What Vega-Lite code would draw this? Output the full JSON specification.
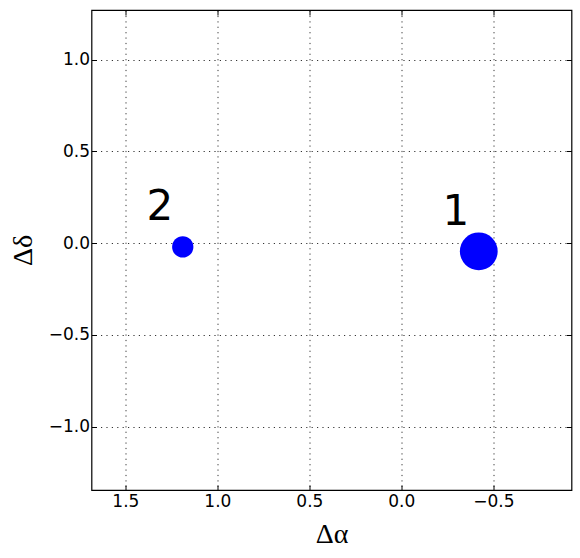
{
  "$schema": "https://vega.github.io/schema/vega-lite/v6.json",
  "autosize": "none",
  "width": 480,
  "height": 480,
  "padding": {"left": 91.5, "top": 10, "right": 8.5, "bottom": 68},
  "background": "white",
  "config": {
    "view": {"stroke": "black", "strokeWidth": 1.2},
    "axis": {
      "domain": false,
      "tickColor": "black",
      "tickSize": -5,
      "tickWidth": 1,
      "labelFont": "DejaVu Sans",
      "labelFontSize": 17,
      "labelColor": "black",
      "gridColor": "black",
      "gridDash": [1.2, 4.2],
      "gridWidth": 0.8,
      "gridOpacity": 1
    }
  },
  "data": {
    "values": [
      {"id": "1", "dalpha": -0.421, "ddelta": -0.044, "flux": 1.0},
      {"id": "2", "dalpha": 1.188, "ddelta": -0.020, "flux": 0.317}
    ]
  },
  "layer": [
    {
      "mark": {"type": "circle", "color": "blue", "opacity": 1},
      "encoding": {
        "x": {
          "field": "dalpha", "type": "quantitative",
          "scale": {"domain": [-0.925, 1.684], "reverse": true, "nice": false, "zero": false},
          "axis": {
            "orient": "bottom", "values": [-0.5, 0, 0.5, 1, 1.5], "format": ".1f",
            "grid": true, "labelPadding": 8,
            "title": "Δα", "titleFont": "Liberation Serif", "titleFontSize": 28,
            "titleFontWeight": "normal", "titleColor": "black",
            "titleBaseline": "alphabetic", "titleY": 52
          }
        },
        "y": {
          "field": "ddelta", "type": "quantitative",
          "scale": {"domain": [-1.345, 1.271], "nice": false, "zero": false},
          "axis": {
            "orient": "left", "values": [-1, -0.5, 0, 0.5, 1], "format": ".1f",
            "grid": true, "labelPadding": 7,
            "title": "Δδ", "titleFont": "Liberation Serif", "titleFontSize": 28,
            "titleFontWeight": "normal", "titleColor": "black",
            "titleBaseline": "alphabetic", "titleX": -60, "titleAngle": -90
          }
        },
        "size": {
          "field": "flux", "type": "quantitative",
          "scale": {"domain": [0, 1], "range": [0, 1425], "zero": true},
          "legend": null
        }
      }
    },
    {
      "mark": {"type": "text", "font": "DejaVu Sans", "fontSize": 42, "color": "black", "align": "center", "baseline": "alphabetic", "dx": -23, "dy": -26.5},
      "encoding": {
        "text": {"field": "id"},
        "x": {
          "field": "dalpha", "type": "quantitative",
          "axis": {"orient": "top", "values": [-0.5, 0, 0.5, 1, 1.5], "labels": false, "grid": false, "title": null}
        },
        "y": {
          "field": "ddelta", "type": "quantitative",
          "axis": {"orient": "right", "values": [-1, -0.5, 0, 0.5, 1], "labels": false, "grid": false, "title": null}
        }
      }
    }
  ],
  "resolve": {"axis": {"x": "independent", "y": "independent"}}
}
